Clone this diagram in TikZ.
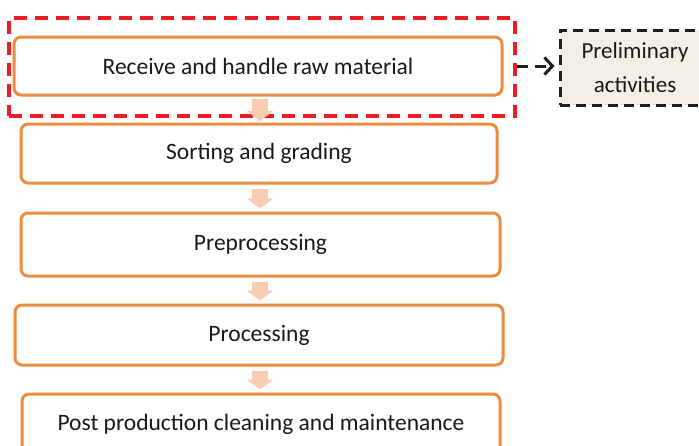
\documentclass[tikz,border=0pt]{standalone}
\usepackage{fontspec}
\setmainfont{Carlito}
\usetikzlibrary{arrows.meta,calc}
\definecolor{boxorange}{RGB}{235,140,65}
\definecolor{peach}{RGB}{250,204,178}
\definecolor{dashred}{RGB}{237,28,36}
\definecolor{prelimfill}{RGB}{243,239,229}
\definecolor{darkline}{RGB}{30,30,30}
\tikzset{
  stepbox/.style={draw=boxorange, line width=3pt, rounded corners=7pt, fill=white,
    inner sep=0pt, font=\fontsize{23.5}{28}\selectfont, text=black!90},
  flowarrow/.style={draw=peach, line width=16pt,
    -{Triangle[width=26pt,length=10pt]}, shorten <=4pt, shorten >=3pt},
  groupbox/.style={draw=dashred, line width=3.5pt, dash pattern=on 13pt off 8pt},
  prelimbox/.style={draw=darkline, fill=prelimfill, line width=3pt,
    dash pattern=on 10pt off 6pt, inner sep=0pt, align=center,
    font=\fontsize{23}{34}\selectfont, text=black!90},
  sidearrow/.style={draw=darkline, line width=3pt, dash pattern=on 11pt off 7pt,
    -{Straight Barb[length=8pt,width=17pt]}, shorten >=4pt}
}
\begin{document}
\begin{tikzpicture}[x=1pt,y=-1pt]
\useasboundingbox (0,0) rectangle (699,445);
\node[groupbox, minimum width=506pt, minimum height=98pt, inner sep=0pt] (grp) at (262,67) {};
\node[stepbox, minimum width=488pt, minimum height=58pt] (b1) at (258,66) {Receive and handle raw material};
\node[stepbox, minimum width=476pt, minimum height=59pt] (b2) at (259,153.5) {Sorting and grading};
\node[stepbox, minimum width=479pt, minimum height=63pt] (b3) at (260.5,244.5) {Preprocessing};
\node[stepbox, minimum width=488pt, minimum height=60pt] (b4) at (259,335) {Processing};
\node[stepbox, minimum width=478pt, minimum height=60pt] (b5) at (261,424) {Post production cleaning and maintenance};
\node[prelimbox, minimum width=150pt, minimum height=75pt] (pre) at (635,67.5) {Preliminary\\activities};
\draw[flowarrow] (260,95) coordinate (a1) -- (260,124) coordinate (a1e);
\draw[flowarrow] (b2.south -| a1) -- (b3.north -| a1);
\draw[flowarrow] (b3.south -| a1) -- (b4.north -| a1);
\draw[flowarrow] (b4.south -| a1) -- (b5.north -| a1);
\draw[sidearrow] (grp.east |- b1) -- (pre.west |- b1);
\end{tikzpicture}
\end{document}
